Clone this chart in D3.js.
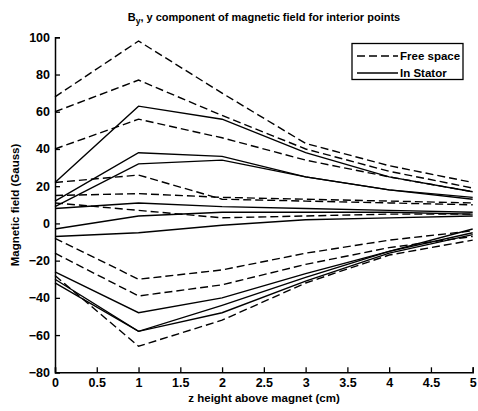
<!DOCTYPE html>
<html>
<head>
<meta charset="utf-8">
<script src="https://cdn.jsdelivr.net/npm/d3@7"></script>
<style>
  body { margin: 0; background: #fff; }
  svg text { font-family: "Liberation Sans", Arial, sans-serif; fill: #000; }
</style>
</head>
<body>
<svg id="chart" width="478" height="411"></svg>
<script>
// Heights above the magnet (cm)
const heights = [0, 1, 2, 3, 4, 5];

// B_y (Gauss) at each interior point, free-space model
const freeSpace = [
  [68, 98, 70, 43, 31, 22],
  [60, 77, 58, 40, 28, 19],
  [40, 56, 46, 34, 25, 17],
  [22, 26, 13, 12, 11, 10],
  [15, 16, 14, 13, 12, 11],
  [11, 7, 3, 4, 5, 5],
  [-8, -30, -25, -16, -9, -4],
  [-16, -39, -33, -22, -13, -7],
  [-28, -66, -52, -32, -17, -9]
];

// B_y (Gauss) at the same points, with the stator present
const inStator = [
  [22, 63, 56, 38, 25, 17],
  [12, 38, 36, 25, 18, 14],
  [9, 32, 34, 25, 18, 13],
  [8, 11, 9, 8, 7, 6],
  [-3, 4, 6, 6, 6, 5],
  [-7, -5, -1, 2, 3, 4],
  [-26, -48, -40, -27, -15, -5],
  [-30, -58, -48, -31, -16, -6],
  [-32, -58, -44, -29, -15, -3]
];

const xTicks = [0, 0.5, 1, 1.5, 2, 2.5, 3, 3.5, 4, 4.5, 5];
const yTicks = [100, 80, 60, 40, 20, 0, -20, -40, -60, -80];
const legendLabels = ["Free space", "In Stator"];

const svg = d3.select("#chart");
const x = d3.scaleLinear().domain([0, 5]).range([55, 472.7]);
const y = d3.scaleLinear().domain([-80, 100]).range([372.3, 37.3]);

const line = d3.line().x((d, i) => x(heights[i])).y(d => y(d));

// Traces
const g = svg.append("g");
g.selectAll("path.free").data(freeSpace).join("path")
  .attr("class", "free")
  .attr("d", line)
  .attr("fill", "none").attr("stroke", "#000").attr("stroke-width", 1.4)
  .attr("stroke-dasharray", "8,4");
g.selectAll("path.stator").data(inStator).join("path")
  .attr("class", "stator")
  .attr("d", line)
  .attr("fill", "none").attr("stroke", "#000").attr("stroke-width", 1.4);

// Axes, ticks pointing inward
const xAxis = svg.append("g").attr("transform", `translate(0,${y(-80)})`)
  .call(d3.axisBottom(x).tickValues(xTicks).tickSize(-5).tickPadding(6)
    .tickFormat(d3.format("")));
const yAxis = svg.append("g").attr("transform", `translate(${x(0)},0)`)
  .call(d3.axisLeft(y).tickValues(yTicks).tickSize(-5).tickPadding(5)
    .tickFormat(d3.format("")));
[xAxis, yAxis].forEach(a => {
  a.select(".domain").attr("stroke", "#000").attr("stroke-width", 1.5);
  a.selectAll(".tick line").attr("stroke", "#000").attr("stroke-width", 1.3);
  a.selectAll(".tick text")
    .style("font-family", '"Liberation Sans", Arial, sans-serif')
    .style("font-size", "12.5px").style("font-weight", "bold");
});

// Title
const title = svg.append("text").attr("x", 264).attr("y", 21)
  .attr("text-anchor", "middle").style("font-size", "11px").style("font-weight", "bold");
title.append("tspan").text("B");
title.append("tspan").attr("dy", 3).style("font-size", "8.5px").text("y");
title.append("tspan").attr("dy", -3).text(", y component of magnetic field for interior points");

// Axis labels
svg.append("text").attr("x", 264).attr("y", 402)
  .attr("text-anchor", "middle").style("font-size", "11.5px").style("font-weight", "bold")
  .text("z height above magnet (cm)");
svg.append("text").attr("transform", "translate(19,205) rotate(-90)")
  .attr("text-anchor", "middle").style("font-size", "11.5px").style("font-weight", "bold")
  .text("Magnetic field (Gauss)");

// Legend
const lg = svg.append("g");
lg.append("rect").attr("x", 352).attr("y", 43.5).attr("width", 111).attr("height", 36)
  .attr("fill", "#fff").attr("stroke", "#000").attr("stroke-width", 1.3);
legendLabels.forEach((lab, i) => {
  const yy = 56 + i * 17;
  lg.append("line").attr("x1", 357).attr("x2", 398).attr("y1", yy).attr("y2", yy)
    .attr("stroke", "#000").attr("stroke-width", 1.4)
    .attr("stroke-dasharray", i === 0 ? "8,4" : null);
  lg.append("text").attr("x", 400).attr("y", yy + 4)
    .style("font-size", "11.5px").style("font-weight", "bold").text(lab);
});
</script>
</body>
</html>
